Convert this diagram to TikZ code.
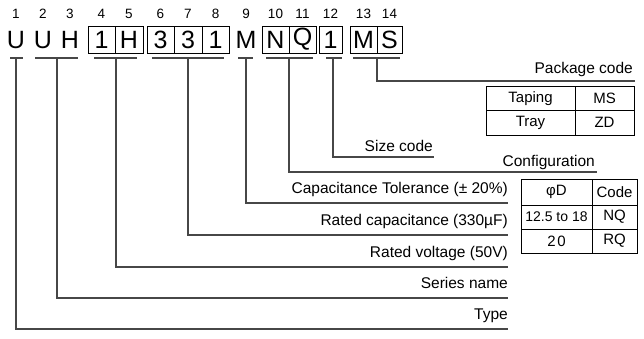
\documentclass[tikz,border=0pt]{standalone}
\usepackage{fontspec}
\setmainfont{Liberation Sans}
\begin{document}
\begin{tikzpicture}[x=1pt,y=-1pt,
  big/.style={font=\fontsize{25}{25}\selectfont, inner sep=0pt, minimum width=27pt, minimum height=27pt, anchor=center},
  cellbox/.style={big, draw=black, line width=0.8pt},
  num/.style={font=\fontsize{13.5}{14}\selectfont, inner sep=0pt},
  lab/.style={font=\fontsize{15.5}{16}\selectfont, inner sep=0pt, anchor=base east},
  lead/.style={draw=black!72, line width=1.1pt},
  tcell/.style={draw=black, line width=0.8pt, inner sep=0pt, font=\fontsize{15}{15}\selectfont, anchor=center}
]
\useasboundingbox (0,0) rectangle (644,339);

% letters
\node[big] (L1) at (16,40) {U};
\node[big] (L2) at (43,40) {U};
\node[big] (L3) at (70,40) {H};
\node[cellbox, minimum width=27pt] (L4) at (101.5,39.5) {1};
\node[cellbox, minimum width=28pt] (L5) at (129,39.5) {H};
\node[cellbox, minimum width=27pt] (L6) at (160.5,39.5) {3};
\node[cellbox, minimum width=28pt] (L7) at (188,39.5) {3};
\node[cellbox, minimum width=27pt] (L8) at (215.5,39.5) {1};
\node[big] (L9) at (246,40) {M};
\node[cellbox, minimum width=27pt] (L10) at (275.5,39.5) {N};
\node[cellbox, minimum width=27pt] (L11) at (302.5,39.5) {Q};
\node[cellbox, minimum width=23pt] (L12) at (330.5,39.5) {1};
\node[cellbox, minimum width=27pt] (L13) at (363.5,39.5) {M};
\node[cellbox, minimum width=25pt] (L14) at (389.5,39.5) {S};

% position numbers
\node[num] (n1) at (16,14) {1};
\node[num] (n2) at (43,14) {2};
\node[num] (n3) at (70,14) {3};
\node[num] (n4) at (101.5,14) {4};
\node[num] (n5) at (129,14) {5};
\node[num] (n6) at (160.5,14) {6};
\node[num] (n7) at (188,14) {7};
\node[num] (n8) at (215.5,14) {8};
\node[num] (n9) at (246,14) {9};
\node[num] (n10) at (275.5,14) {10};
\node[num] (n11) at (302.5,14) {11};
\node[num] (n12) at (330.5,14) {12};
\node[num] (n13) at (363.5,14) {13};
\node[num] (n14) at (389.5,14) {14};

% underlines
\foreach \i/\a/\b in {1/10/23, 2/35/78, 3/94/137, 4/152/224, 5/238/253, 6/266/313, 7/326/342, 8/353/400}{
  \coordinate (ua\i) at (\a,58);
  \coordinate (ub\i) at (\b,58);
  \draw[lead] (ua\i) -- (ub\i);
}

% stems and leader ends
\coordinate (s1) at (16,58);  \coordinate (e1) at (508,329);
\coordinate (s2) at (57,58);  \coordinate (e2) at (508,298);
\coordinate (s3) at (116,58); \coordinate (e3) at (508,267);
\coordinate (s4) at (188,58); \coordinate (e4) at (508,235);
\coordinate (s5) at (246,58); \coordinate (e5) at (508,203);
\coordinate (s6) at (289,58); \coordinate (e6) at (597,172);
\coordinate (s7) at (333,58); \coordinate (e7) at (434,157);
\coordinate (s8) at (377,58); \coordinate (e8) at (635,81);
\foreach \i in {1,...,8}{ \draw[lead] (s\i) |- (e\i); }

% labels
\node[lab] (t1) at ([yshift=9.5pt]e1) {Type};
\node[lab] (t2) at ([yshift=9.5pt]e2) {Series name};
\node[lab] (t3) at ([yshift=9.5pt]e3) {Rated voltage (50V)};
\node[lab] (t4) at ([yshift=9.5pt]e4) {Rated capacitance (330µF)};
\node[lab] (t5) at ([yshift=9.5pt]e5) {Capacitance Tolerance (± 20\%)};
\node[lab] (t6) at ([xshift=-2pt,yshift=6pt]e6) {Configuration};
\node[lab] (t7) at ([xshift=-1pt,yshift=5pt]e7) {Size code};
\node[lab] (t8) at ([xshift=-2pt,yshift=7pt]e8) {Package code};

% package table
\node[tcell, minimum width=89pt, minimum height=24.5pt] (pa1) at (530.5,98.25) {Taping};
\node[tcell, minimum width=59pt, minimum height=24.5pt] (pb1) at (604.5,98.25) {MS};
\node[tcell, minimum width=89pt, minimum height=24.5pt] (pa2) at (530.5,122.75) {Tray};
\node[tcell, minimum width=59pt, minimum height=24.5pt] (pb2) at (604.5,122.75) {ZD};

% configuration table
\node[tcell, minimum width=71pt, minimum height=26pt] (ca1) at (556.5,192) {φD};
\node[tcell, minimum width=45pt, minimum height=26pt] (cb1) at (614.5,192) {Code};
\node[tcell, minimum width=71pt, minimum height=24pt] (ca2) at (556.5,217) {\fontsize{14}{14}\selectfont 12.5 to 18};
\node[tcell, minimum width=45pt, minimum height=24pt] (cb2) at (614.5,217) {NQ};
\node[tcell, minimum width=71pt, minimum height=24pt] (ca3) at (556.5,241) {2\kern1.5pt0};
\node[tcell, minimum width=45pt, minimum height=24pt] (cb3) at (614.5,241) {RQ};
\end{tikzpicture}
\end{document}
